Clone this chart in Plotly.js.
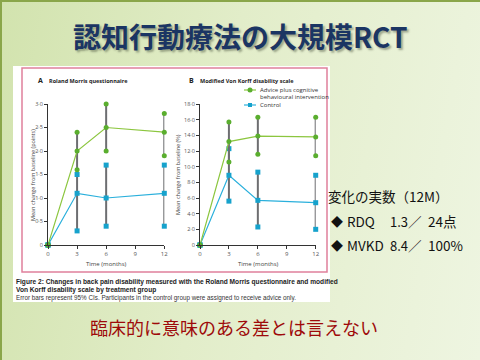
<!DOCTYPE html>
<html><head><meta charset="utf-8">
<script src="https://cdn.plot.ly/plotly-3.0.1.min.js"></script>
<style>
html,body{margin:0;padding:0;width:480px;height:360px;overflow:hidden;
background:linear-gradient(100deg,#d2e3ae 0%,#e2edc9 45%,#eef5e1 100%);}
#c{width:480px;height:360px;}
</style>
</head><body><div id="c"></div>
<script>
// ---- data ----
const months = [0, 3, 6, 12];
const xTicks = [0, 3, 6, 9, 12];
const rdqAdviceMean = [0, 2.0, 2.5, 2.4];
const rdqAdviceLow  = [0, 1.6, 2.0, 1.9];
const rdqAdviceHigh = [0, 2.4, 3.0, 2.8];
const rdqControlMean = [0, 1.1, 1.0, 1.1];
const rdqControlLow  = [0, 0.3, 0.4, 0.4];
const rdqControlHigh = [0, 1.5, 1.7, 1.7];
const mvkAdviceMean = [0, 13.2, 13.9, 13.8];
const mvkAdviceLow  = [0, 10.6, 11.6, 11.4];
const mvkAdviceHigh = [0, 15.7, 16.3, 16.3];
const mvkControlMean = [0, 8.9, 5.7, 5.4];
const mvkControlLow  = [0, 5.6, 2.3, 2.0];
const mvkControlHigh = [0, 12.3, 9.3, 8.9];
const rdqTickVals = [0, 0.5, 1.0, 1.5, 2.0, 2.5, 3.0];
const rdqTickText = ['0', '0·5', '1·0', '1·5', '2·0', '2·5', '3·0'];
const mvkTickVals = [0, 2, 4, 6, 8, 10, 12, 14, 16, 18];
const mvkTickText = ['0', '2·0', '4·0', '6·0', '8·0', '10·0', '12·0', '14·0', '16·0', '18·0'];
const seriesNames = ['Advice plus cognitive behavioural intervention', 'Control'];

// ---- styling ----
const W = 480, H = 360;
const X = p => p / W, Y = p => 1 - p / H;
const GREEN_LINE = '#8cc63f', GREEN = '#5aae2e';
const CYAN_LINE = '#2bb0dc', CYAN = '#16a2cc';
const BAR = '#6d6e71';
const chartFont = 'Open Sans, Liberation Sans, sans-serif';
const jp = 'Noto Sans CJK JP, sans-serif';

function series(x, mean, low, high, xa, ya, lineColor, markColor, symbol, name) {
  const err = {type: 'data', symmetric: false,
    array: high.map((h, i) => h - mean[i]), arrayminus: low.map((l, i) => mean[i] - l),
    color: BAR, thickness: 2, width: 0};
  return [
    {x: x, y: mean, xaxis: xa, yaxis: ya, type: 'scatter', mode: 'lines+markers', name: name,
     showlegend: false, cliponaxis: false, error_y: err,
     line: {color: lineColor, width: 1.2}, marker: {color: markColor, size: 5, symbol: symbol}},
    {x: x.concat(x), y: low.concat(high), xaxis: xa, yaxis: ya, type: 'scatter', mode: 'markers',
     showlegend: false, cliponaxis: false, hoverinfo: 'skip',
     marker: {color: markColor, size: 5, symbol: symbol}}
  ];
}

const data = [].concat(
  series(months, rdqControlMean, rdqControlLow, rdqControlHigh, 'x', 'y', CYAN_LINE, CYAN, 'square', seriesNames[1]),
  series(months, rdqAdviceMean, rdqAdviceLow, rdqAdviceHigh, 'x', 'y', GREEN_LINE, GREEN, 'circle', seriesNames[0]),
  series(months, mvkControlMean, mvkControlLow, mvkControlHigh, 'x2', 'y2', CYAN_LINE, CYAN, 'square', seriesNames[1]),
  series(months, mvkAdviceMean, mvkAdviceLow, mvkAdviceHigh, 'x2', 'y2', GREEN_LINE, GREEN, 'circle', seriesNames[0])
);

function xAxis(d0, d1, anchor) {
  return {domain: [X(d0), X(d1)], range: [0, 12], anchor: anchor, showgrid: false, zeroline: false,
    showline: true, linecolor: '#333', linewidth: 1, ticks: 'outside', ticklen: 3, tickcolor: '#333',
    tickvals: xTicks, ticktext: xTicks.map(String), tickfont: {size: 6, color: '#555', family: chartFont},
    fixedrange: true};
}
function yAxis(range, vals, text, anchor) {
  return {domain: [Y(245), Y(104)], range: range, anchor: anchor, showgrid: false, zeroline: false,
    showline: true, linecolor: '#333', linewidth: 1, ticks: 'outside', ticklen: 3, tickcolor: '#333',
    tickvals: vals, ticktext: text, tickfont: {size: 5.5, color: '#555', family: chartFont},
    fixedrange: true};
}

function ann(text, px, py, o) {
  o = o || {};
  return Object.assign({text: text, x: X(px), y: Y(py), xref: 'paper', yref: 'paper', showarrow: false,
    xanchor: 'left', yanchor: 'middle',
    font: {size: 6, color: '#333', family: chartFont}}, o);
}
const big = s => ({size: s, color: '#111', family: jp});

const annotations = [
  ann('<b>認知行動療法の大規模RCT</b>', 240, 36, {xanchor: 'center',
    font: {size: 28, color: '#1b3563', family: jp, shadow: '2px 2px 2px rgba(70,80,60,0.45)'}}),
  ann('<b>A</b>', 36, 80.5, {font: {size: 7, color: '#222', family: chartFont}}),
  ann('<b>Roland Morris questionnaire</b>', 47, 80.5, {font: {size: 5.5, color: '#222', family: chartFont}}),
  ann('<b>B</b>', 187, 80.5, {font: {size: 7, color: '#222', family: chartFont}}),
  ann('<b>Modified Von Korff disability scale</b>', 198, 80.5, {font: {size: 5.5, color: '#222', family: chartFont}}),
  ann('Advice plus cognitive', 258, 90),
  ann('behavioural intervention', 258, 97.5),
  ann('Control', 258, 105),
  ann('Mean change from baseline (points)', 33, 175, {xanchor: 'center', textangle: -90, font: {size: 5.5, color: '#444', family: chartFont}}),
  ann('Mean change from baseline (%)', 178, 175, {xanchor: 'center', textangle: -90, font: {size: 5.5, color: '#444', family: chartFont}}),
  ann('Time (months)', 106, 264, {xanchor: 'center', font: {size: 6, color: '#444', family: chartFont}}),
  ann('Time (months)', 258, 264, {xanchor: 'center', font: {size: 6, color: '#444', family: chartFont}}),
  ann('<b>Figure 2: Changes in back pain disability measured with the Roland Morris questionnaire and modified</b>', 14, 282,
    {font: {size: 6.6, color: '#222', family: 'Liberation Sans Narrow, Liberation Sans, sans-serif'}}),
  ann('<b>Von Korff disability scale by treatment group</b>', 14, 290,
    {font: {size: 6.6, color: '#222', family: 'Liberation Sans Narrow, Liberation Sans, sans-serif'}}),
  ann('Error bars represent 95% CIs. Participants in the control group were assigned to receive advice only.', 14, 297.5,
    {font: {size: 6.3, color: '#333', family: 'Liberation Sans Narrow, Liberation Sans, sans-serif'}}),
  ann('変化の実数（12M）', 326, 196, {font: big(13.5)}),
  ann('◆', 329, 221, {font: big(12)}),
  ann('RDQ', 345, 221, {font: big(13.5)}),
  ann('1.3', 388, 221, {font: big(13)}),
  ann('／', 406, 221, {font: big(13.5)}),
  ann('24点', 426, 221, {font: big(13.5)}),
  ann('◆', 329, 245, {font: big(12)}),
  ann('MVKD', 345, 245, {font: big(13.5)}),
  ann('8.4', 388, 245, {font: big(13)}),
  ann('／', 406, 245, {font: big(13.5)}),
  ann('100%', 426, 245, {font: big(13.5)}),
  ann('臨床的に意味のある差とは言えない', 234, 327, {xanchor: 'center', font: {size: 18, color: '#9e0a0a', family: jp}})
];

const shapes = [
  {type: 'rect', xref: 'paper', yref: 'paper', x0: X(13), x1: X(330), y0: Y(302), y1: Y(66),
   fillcolor: '#ffffff', line: {width: 0}, layer: 'below'},
  {type: 'rect', xref: 'paper', yref: 'paper', x0: X(22), x1: X(327), y0: Y(272), y1: Y(68),
   fillcolor: 'rgba(0,0,0,0)', line: {color: '#e0809c', width: 1.5}, layer: 'below'},
  {type: 'line', xref: 'paper', yref: 'paper', x0: 0, x1: 1, y0: Y(1), y1: Y(1), line: {color: '#8aa64a', width: 2}},
  {type: 'line', xref: 'paper', yref: 'paper', x0: X(1), x1: X(1), y0: 0, y1: 1, line: {color: '#8aa64a', width: 2}},
  // legend keys
  {type: 'line', xref: 'paper', yref: 'paper', x0: X(244), x1: X(256), y0: Y(90), y1: Y(90), line: {color: GREEN_LINE, width: 1.2}},
  {type: 'circle', xref: 'paper', yref: 'paper', x0: X(247.5), x1: X(252.5), y0: Y(92.5), y1: Y(87.5), fillcolor: GREEN, line: {width: 0}},
  {type: 'line', xref: 'paper', yref: 'paper', x0: X(244), x1: X(256), y0: Y(105), y1: Y(105), line: {color: CYAN_LINE, width: 1.2}},
  {type: 'rect', xref: 'paper', yref: 'paper', x0: X(248), x1: X(252), y0: Y(107), y1: Y(103), fillcolor: CYAN, line: {width: 0}}
];

const layout = {
  width: W, height: H, margin: {l: 0, r: 0, t: 0, b: 0},
  paper_bgcolor: 'rgba(0,0,0,0)', plot_bgcolor: 'rgba(0,0,0,0)',
  showlegend: false,
  xaxis: xAxis(48, 164.3, 'y'),
  yaxis: yAxis([0, 3], rdqTickVals, rdqTickText, 'x'),
  xaxis2: xAxis(200, 315.7, 'y2'),
  yaxis2: yAxis([0, 18], mvkTickVals, mvkTickText, 'x2'),
  annotations: annotations, shapes: shapes
};
Plotly.newPlot('c', data, layout, {staticPlot: true});
</script></body></html>
